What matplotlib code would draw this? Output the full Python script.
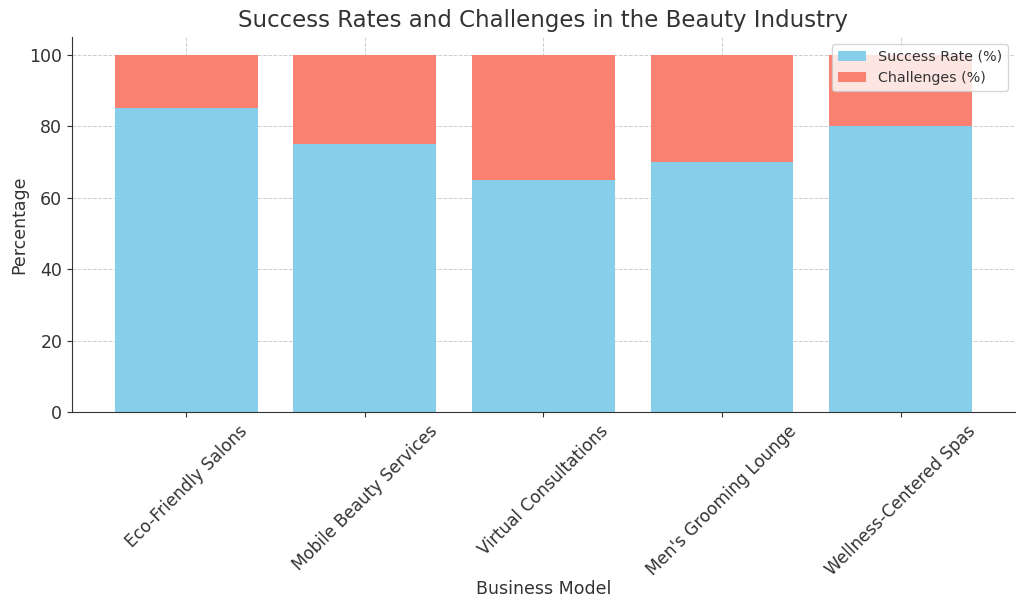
import matplotlib
matplotlib.use("Agg")
import matplotlib.pyplot as plt
import numpy as np

categories = ["Eco-Friendly Salons", "Mobile Beauty Services", "Virtual Consultations",
              "Men's Grooming Lounge", "Wellness-Centered Spas"]
success_rate = [85, 75, 65, 70, 80]
challenges = [15, 25, 35, 30, 20]

plt.rcParams['font.family'] = ['DejaVu Sans']
text_color = '#333333'

fig = plt.figure(figsize=(10.24, 6.11), dpi=100)
ax = fig.add_axes([0.0703, 0.3257, 0.9207, 0.6137])

x = np.arange(len(categories))
ax.bar(x, success_rate, width=0.8, color='skyblue', label='Success Rate (%)', zorder=2)
ax.bar(x, challenges, width=0.8, bottom=success_rate, color='salmon', label='Challenges (%)', zorder=2)

ax.set_xticks(x)
ax.set_xticklabels(categories, rotation=45, ha='center', fontsize=12.2, color=text_color)
ax.tick_params(axis='y', labelsize=12.5, colors=text_color)
ax.tick_params(axis='x', colors=text_color)
ax.set_ylim(0, 105)
ax.set_xlim(-0.64, 4.64)
ax.set_yticks([0, 20, 40, 60, 80, 100])

ax.set_title('Success Rates and Challenges in the Beauty Industry', fontsize=16.5, color=text_color, pad=7)
ax.set_xlabel('Business Model', fontsize=12.5, color=text_color, labelpad=1)
ax.set_ylabel('Percentage', fontsize=12.5, color=text_color, labelpad=1)

ax.grid(True, linestyle='--', color='#cccccc', linewidth=0.7, zorder=0)
ax.spines['top'].set_visible(False)
ax.spines['right'].set_visible(False)
ax.spines['left'].set_color('#333333')
ax.spines['bottom'].set_color('#333333')

leg = ax.legend(loc='upper right', fontsize=10.3)
for t in leg.get_texts():
    t.set_color(text_color)

fig.savefig('out.png', dpi=100)
